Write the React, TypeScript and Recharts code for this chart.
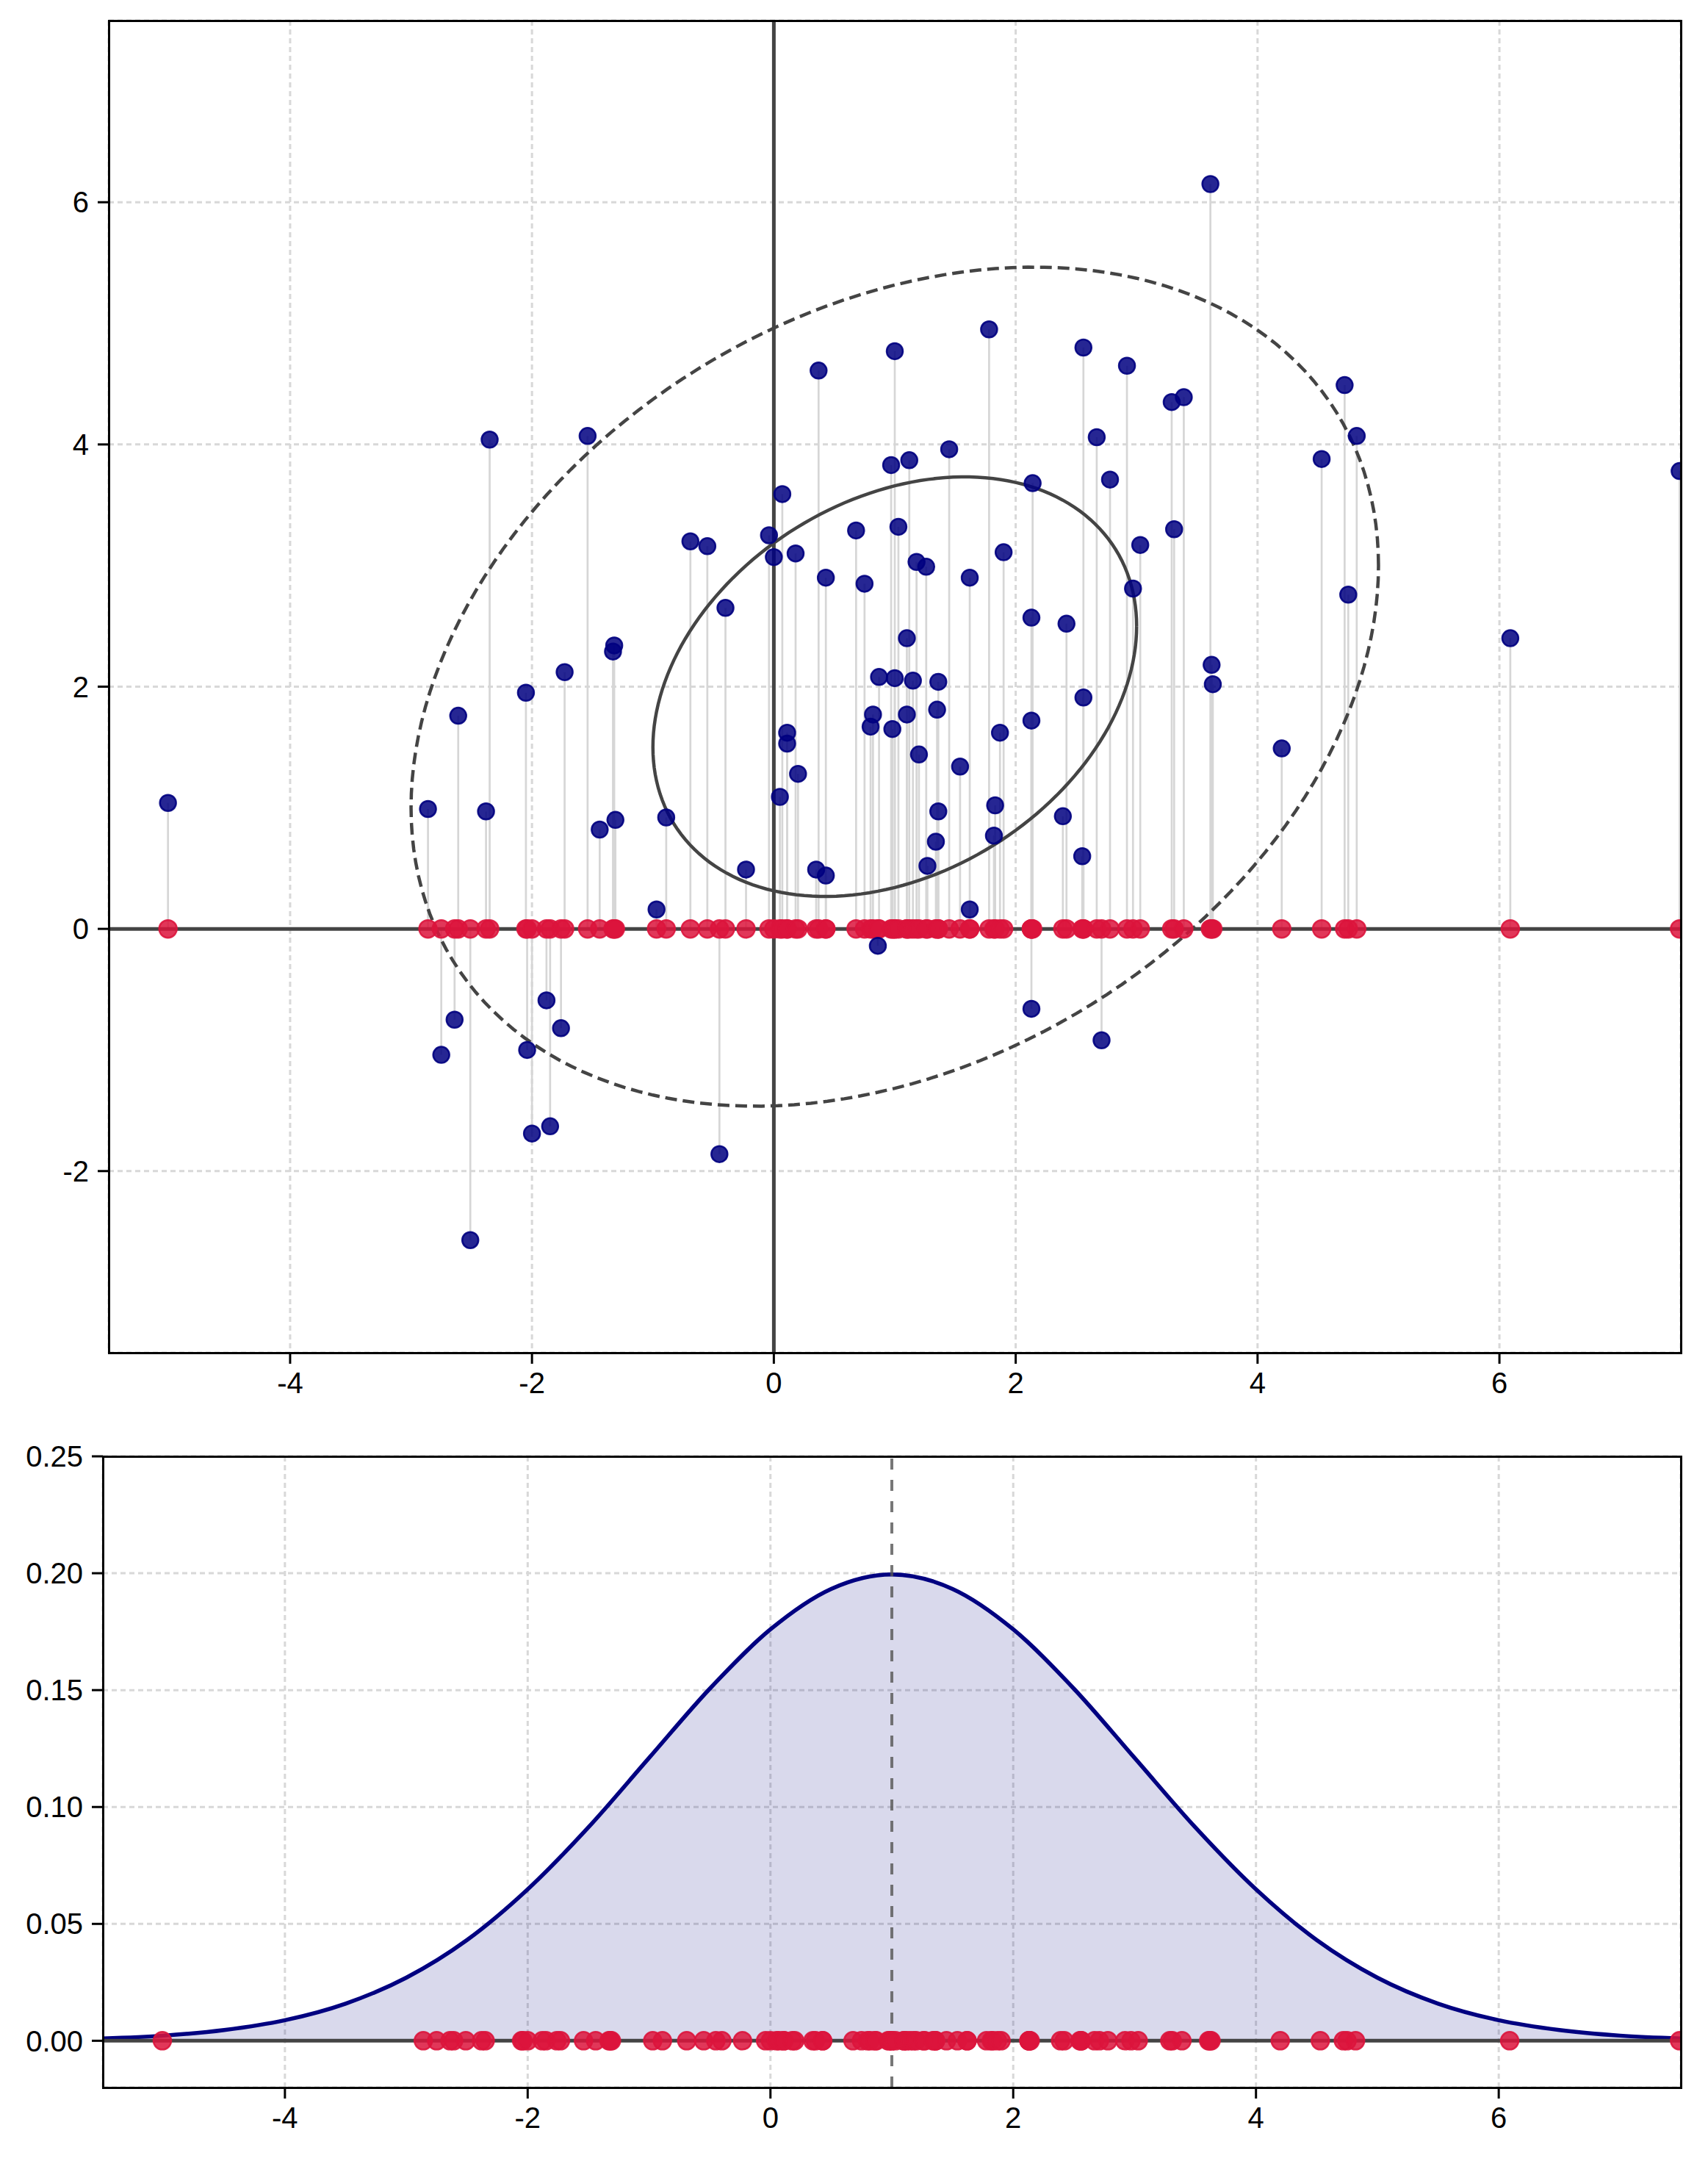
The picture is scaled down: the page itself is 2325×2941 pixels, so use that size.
import React from "react"
import {
  ComposedChart,
  Scatter,
  Area,
  XAxis,
  YAxis,
  CartesianGrid,
  ReferenceLine,
} from "recharts"

// sample values (x, y of each blue point)
const POINT_X = [
  -5.01, -2.86, -2.61, -2.35, -2.38, -2.64, -2.75, -2.51, -2.05, -2.04,
  -2.0, -1.88, -1.85, -1.76, -1.73, -1.54, -1.44, -1.33, -1.32, -1.31,
  -0.97, -0.89, -0.69, -0.55, -0.4, -0.45, -0.23, -0.04, 0.0, 0.07,
  0.05, 0.11, 0.11, 0.2, 0.18, 0.37, 0.35, 0.43, 0.43, 0.68,
  0.75, 0.8, 0.82, 0.87, 0.86, 0.97, 1.0, 0.98, 1.0, 1.03,
  1.1, 1.12, 1.1, 1.15, 1.18, 1.2, 1.26, 1.27, 1.36, 1.35,
  1.36, 1.34, 1.45, 1.54, 1.62, 1.62, 1.78, 1.83, 1.82, 1.87,
  1.9, 2.13, 2.13, 2.14, 2.13, 2.39, 2.42, 2.56, 2.55, 2.56,
  2.67, 2.71, 2.78, 2.92, 2.97, 3.03, 3.29, 3.31, 3.39, 3.61,
  3.62, 3.63, 4.2, 4.53, 4.72, 4.75, 4.82, 6.09, 7.49,
]
const POINT_Y = [
  1.04, 0.99, 1.76, 4.04, 0.97, -0.75, -1.04, -2.57, 1.95, -1.0,
  -1.69, -0.59, -1.63, -0.82, 2.12, 4.07, 0.82, 2.29, 2.34, 0.9,
  0.16, 0.92, 3.2, 3.16, 2.65, -1.86, 0.49, 3.25, 3.07, 3.59,
  1.09, 1.62, 1.53, 1.28, 3.1, 4.61, 0.49, 2.9, 0.44, 3.29,
  2.85, 1.67, 1.77, 2.08, -0.14, 3.83, 4.77, 1.65, 2.07, 3.32,
  2.4, 3.87, 1.77, 2.05, 3.03, 1.44, 2.99, 0.52, 2.04, 1.81,
  0.97, 0.72, 3.96, 1.34, 2.9, 0.16, 4.95, 1.02, 0.77, 1.62,
  3.11, 2.57, 1.72, 3.68, -0.66, 0.93, 2.52, 4.8, 0.6, 1.91,
  4.06, -0.92, 3.71, 4.65, 2.81, 3.17, 4.35, 3.3, 4.39, 6.15,
  2.18, 2.02, 1.49, 3.88, 4.49, 2.76, 4.07, 2.4, 3.78,
]

// marginal density of x, read at half-unit steps
const PDF_X = [
  -5.5, -5, -4.5, -4, -3.5, -3, -2.5, -2, -1.5, -1, -0.5, 0, 0.5, 1,
  1.5, 2, 2.5, 3, 3.5, 4, 4.5, 5, 5.5, 6, 6.5, 7, 7.5,
]
const PDF_Y = [
  0.001, 0.0022, 0.0046, 0.0088, 0.0159, 0.027, 0.0431, 0.0648, 0.0913,
  0.121, 0.1506, 0.176, 0.1933, 0.1995, 0.1933, 0.176, 0.1506, 0.121,
  0.0913, 0.0648, 0.0431, 0.027, 0.0159, 0.0088, 0.0046, 0.0022, 0.001,
]

// mean and covariance behind the two contour ellipses (1 and 2 sigma)
const MEAN = [1, 2]
const COV = [
  [4, 1],
  [1, 3],
]
const SIGMA_LEVELS = [1, 2]

const X_TICKS = [-4, -2, 0, 2, 4, 6]
const TOP_Y_TICKS = [-2, 0, 2, 4, 6]
const BOTTOM_Y_TICKS = [0, 0.05, 0.1, 0.15, 0.2, 0.25]

const FONT = "Liberation Sans, Arial, Helvetica, sans-serif"
const NAVY = "#000080"
const CRIMSON = "#DC143C"
const DARK = "#444444"

const points = POINT_X.map((x, i) => ({ x, y: POINT_Y[i] }))
const projected = POINT_X.map((x) => ({ x, y: 0 }))
const pdfData = PDF_X.map((x, i) => ({ x, y: PDF_Y[i] }))

function ellipsePoints(k: number) {
  const a = Math.sqrt(COV[0][0])
  const b = COV[0][1] / a
  const c = Math.sqrt(COV[1][1] - b * b)
  const out = []
  for (let i = 0; i <= 180; i++) {
    const t = (i / 180) * Math.PI * 2
    const u = Math.cos(t)
    const v = Math.sin(t)
    out.push({ x: MEAN[0] + k * a * u, y: MEAN[1] + k * (b * u + c * v) })
  }
  return out
}

const innerEllipse = ellipsePoints(SIGMA_LEVELS[0])
const outerEllipse = ellipsePoints(SIGMA_LEVELS[1])

const tickStyle = { fill: "#000", fontSize: 40, fontFamily: FONT }
const tickLine = { stroke: "#000", strokeWidth: 3 }

const makeDot = (color: string, r: number) => (props: any) => {
  const { cx, cy } = props
  if (cx == null || cy == null) return <g />
  return (
    <circle
      cx={cx}
      cy={cy}
      r={r}
      fill={color}
      fillOpacity={0.85}
      stroke={color}
      strokeOpacity={0.9}
      strokeWidth={2.5}
    />
  )
}
const BlueDot = makeDot(NAVY, 11)
const RedDot = makeDot(CRIMSON, 12)
const NoDot = () => <g />

function Frame({ left, top, width, height }: { left: number; top: number; width: number; height: number }) {
  return (
    <div
      style={{
        position: "absolute",
        left: left - 1.5,
        top: top - 1.5,
        width: width + 3,
        height: height + 3,
        border: "3px solid #000",
        boxSizing: "border-box",
        pointerEvents: "none",
      }}
    />
  )
}

function ScatterPanel() {
  return (
    <div style={{ position: "absolute", left: 0, top: 0 }}>
      <ComposedChart width={2325} height={1950} margin={{ top: 28, right: 37, bottom: 0, left: 48 }}>
        <CartesianGrid stroke="#d8d8d8" strokeWidth={3} strokeDasharray="7 5" />
        <XAxis
          type="number"
          dataKey="x"
          domain={[-5.5, 7.5]}
          ticks={X_TICKS}
          interval={0}
          allowDataOverflow
          height={109}
          axisLine={false}
          tickLine={tickLine}
          tickSize={15}
          tickMargin={12}
          tick={tickStyle}
        />
        <YAxis
          type="number"
          dataKey="y"
          domain={[-3.5, 7.5]}
          ticks={TOP_Y_TICKS}
          interval={0}
          allowDataOverflow
          width={100}
          axisLine={false}
          tickLine={tickLine}
          tickSize={15}
          tickMargin={12}
          tick={tickStyle}
        />
        {points.map((p, i) => (
          <ReferenceLine
            key={`stem-${i}`}
            segment={[
              { x: p.x, y: 0 },
              { x: p.x, y: p.y },
            ]}
            stroke="#d6d6d6"
            strokeWidth={2.7}
          />
        ))}
        <Scatter
          data={outerEllipse}
          fill="none"
          shape={NoDot}
          line={{ stroke: DARK, strokeWidth: 4.5, strokeDasharray: "16 8" }}
          isAnimationActive={false}
        />
        <Scatter
          data={innerEllipse}
          fill="none"
          shape={NoDot}
          line={{ stroke: DARK, strokeWidth: 4.5 }}
          isAnimationActive={false}
        />
        <Scatter data={projected} shape={RedDot} isAnimationActive={false} />
        <Scatter data={points} shape={BlueDot} isAnimationActive={false} />
        <ReferenceLine x={0} stroke={DARK} strokeWidth={5} />
        <ReferenceLine y={0} stroke={DARK} strokeWidth={5} />
      </ComposedChart>
      <Frame left={148} top={28} width={2140} height={1813} />
    </div>
  )
}

function DensityPanel() {
  return (
    <div style={{ position: "absolute", left: 0, top: 1950 }}>
      <ComposedChart width={2325} height={991} margin={{ top: 32, right: 37, bottom: 0, left: 40 }}>
        <CartesianGrid stroke="#d8d8d8" strokeWidth={3} strokeDasharray="7 5" />
        <XAxis
          type="number"
          dataKey="x"
          domain={[-5.5, 7.5]}
          ticks={X_TICKS}
          interval={0}
          allowDataOverflow
          height={100}
          axisLine={false}
          tickLine={tickLine}
          tickSize={15}
          tickMargin={12}
          tick={tickStyle}
        />
        <YAxis
          type="number"
          dataKey="y"
          domain={[-0.02, 0.25]}
          ticks={BOTTOM_Y_TICKS}
          interval={0}
          allowDataOverflow
          width={100}
          axisLine={false}
          tickLine={tickLine}
          tickSize={15}
          tickMargin={12}
          tick={tickStyle}
          tickFormatter={(v: number) => v.toFixed(2)}
        />
        <Area
          data={pdfData}
          dataKey="y"
          type="monotone"
          baseValue={0}
          stroke={NAVY}
          strokeWidth={5.5}
          fill={NAVY}
          fillOpacity={0.15}
          dot={false}
          activeDot={false}
          isAnimationActive={false}
        />
        <Scatter data={projected} shape={RedDot} isAnimationActive={false} />
        <ReferenceLine x={MEAN[0]} stroke="#555" strokeOpacity={0.8} strokeWidth={4} strokeDasharray="15 14" />
        <ReferenceLine y={0} stroke={DARK} strokeWidth={5} />
      </ComposedChart>
      <Frame left={140} top={32} width={2148} height={859} />
    </div>
  )
}

export default function App() {
  return (
    <div style={{ position: "absolute", left: 0, top: 0, width: 2325, height: 2941, background: "#fff", fontFamily: FONT }}>
      <ScatterPanel />
      <DensityPanel />
    </div>
  )
}
